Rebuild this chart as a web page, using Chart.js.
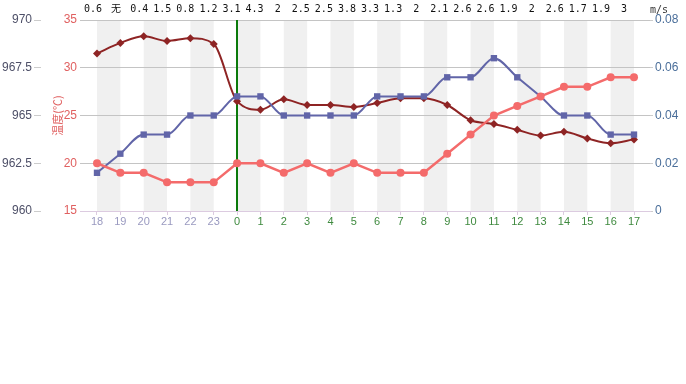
<!DOCTYPE html>
<html><head><meta charset="utf-8">
<script src="https://cdn.jsdelivr.net/npm/chart.js@4/dist/chart.umd.min.js"></script>
<style>html,body{margin:0;padding:0;background:#fff;}#wrap{width:686px;height:384px;position:relative;}</style>
</head><body><div id="wrap"><canvas id="c" width="686" height="384"></canvas></div>
<script>
const hours = ['18','19','20','21','22','23','0','1','2','3','4','5','6','7','8','9','10','11','12','13','14','15','16','17'];
const windLabels = ['0.6','无','0.4','1.5','0.8','1.2','3.1','4.3','2','2.5','2.5','3.8','3.3','1.3','2','2.1','2.6','2.6','1.9','2','2.6','1.7','1.9','3'];
const temperature = [20,19,19,18,18,18,20,20,19,20,19,20,19,19,19,21,23,25,26,27,28,28,29,29];
const pressure = [962,963,964,964,965,965,966,966,965,965,965,965,966,966,966,967,967,968,967,966,965,965,964,964];
const humidity = [31.5,32.6,33.3,32.8,33.1,32.5,26.5,25.6,26.7,26.1,26.1,25.9,26.3,26.8,26.8,26.1,24.5,24.1,23.5,22.9,23.3,22.6,22.1,22.5];
const windTicks = ['0','0.02','0.04','0.06','0.08'];
const nowIndex = 6;

const pts = arr => arr.map((v, i) => ({x: i, y: v}));
const axisFont = {family: 'Liberation Sans', size: 12};

const decor = {
  id: 'decor',
  beforeDraw(chart) {
    const {ctx, chartArea: a, scales: {x}} = chart;
    ctx.save();
    ctx.fillStyle = '#f0f0f0';
    for (let i = 0; i < hours.length - 1; i += 2) {
      const x0 = x.getPixelForValue(i), x1 = x.getPixelForValue(i + 1);
      ctx.fillRect(x0, a.top, x1 - x0, a.bottom - a.top);
    }
    ctx.restore();
  },
  beforeDatasetsDraw(chart) {
    const {ctx, chartArea: a, scales: {x}} = chart;
    const px = Math.round(x.getPixelForValue(nowIndex));
    ctx.save();
    ctx.strokeStyle = '#0b7a0b';
    ctx.lineWidth = 2;
    ctx.beginPath();
    ctx.moveTo(px, a.top);
    ctx.lineTo(px, a.bottom);
    ctx.stroke();
    ctx.restore();
  },
  afterDraw(chart) {
    const {ctx, chartArea: a} = chart;
    ctx.save();
    ctx.fillStyle = '#333';
    ctx.font = '10px "DejaVu Sans Mono"';
    ctx.textBaseline = 'alphabetic';
    ctx.fillText('m/s', a.right, 13);
    ctx.restore();
  }
};

new Chart(document.getElementById('c'), {
  type: 'line',
  data: {
    datasets: [
      {label: '温度', data: pts(temperature), yAxisID: 'yT', xAxisID: 'x', order: 0,
        borderColor: '#f46b6b', backgroundColor: '#f46b6b', borderWidth: 2.5, tension: 0,
        pointStyle: 'circle', pointRadius: 4, pointBorderWidth: 0},
      {label: '气压', data: pts(pressure), yAxisID: 'yP', xAxisID: 'x', order: 1,
        borderColor: '#6165a8', backgroundColor: '#6165a8', borderWidth: 2, cubicInterpolationMode: 'monotone',
        pointStyle: 'rect', pointRadius: 4.5, pointBorderWidth: 0},
      {label: '湿度', data: pts(humidity), yAxisID: 'yT', xAxisID: 'x', order: 2,
        borderColor: '#8e2424', backgroundColor: '#8e2424', borderWidth: 2, cubicInterpolationMode: 'monotone',
        pointStyle: 'rectRot', pointRadius: 4, pointBorderWidth: 0}
    ]
  },
  options: {
    responsive: false, animation: false,
    layout: {padding: {top: 0, left: 0, right: 0, bottom: 152}},
    plugins: {legend: {display: false}, tooltip: {enabled: false}},
    scales: {
      x: {type: 'linear', position: 'bottom', min: -0.728, max: 23.685,
        afterFit(s) { s.height = 21; },
        ticks: {stepSize: 1, includeBounds: false, autoSkip: false, maxRotation: 0, minRotation: 0, padding: 0,
          callback: v => hours[v] ?? '',
          color: c => (c.tick && c.tick.value < nowIndex) ? '#9a9ac0' : '#3f8a3f',
          font: {family: 'Liberation Sans', size: 11}},
        grid: {drawOnChartArea: false, tickLength: 4, color: '#dccbe0'},
        border: {color: '#dccbe0'}},
      x2: {type: 'linear', position: 'top', min: -0.563, max: 24.126,
        afterFit(s) { s.height = 20; },
        grid: {display: false, drawTicks: false}, border: {display: false},
        ticks: {stepSize: 1, includeBounds: false, autoSkip: false, maxRotation: 0, minRotation: 0, padding: 5,
          callback: v => windLabels[v] ?? '', color: '#111',
          font: {family: '"DejaVu Sans Mono", "Noto Sans CJK SC"', size: 10}}},
      yP: {position: 'left', weight: 2, min: 960, max: 970,
        afterFit(s) { s.width = 41; },
        ticks: {stepSize: 2.5, padding: 2, color: '#4e5068', font: axisFont},
        grid: {drawOnChartArea: false, tickLength: 7, color: '#cccccc'}, border: {display: false}},
      yT: {position: 'left', weight: 1, min: 15, max: 35,
        afterFit(s) { s.width = 39; },
        title: {display: true, text: '温度(℃)', color: '#e06060',
          font: {family: '"Noto Sans CJK SC"', size: 11}, padding: {top: 10, bottom: 0}},
        ticks: {stepSize: 5, padding: 3, color: '#e06060', font: axisFont},
        grid: {color: '#c4c4c4', drawTicks: false}, border: {display: false}},
      yW: {position: 'right', min: 0, max: 0.08,
        afterFit(s) { s.width = 36; },
        ticks: {stepSize: 0.02, padding: 2, color: '#4a6e9a', font: axisFont,
          callback: v => windTicks[Math.round(v / 0.02)] ?? ''},
        grid: {drawOnChartArea: false, tickLength: 3, color: '#cccccc'}, border: {display: false}}
    }
  },
  plugins: [decor]
});
</script></body></html>
